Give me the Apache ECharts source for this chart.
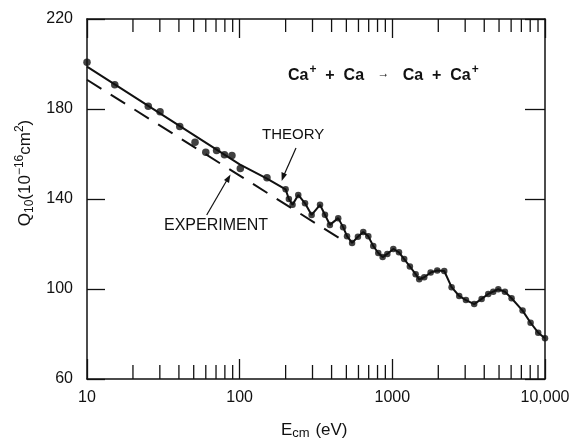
<!DOCTYPE html>
<html>
<head>
<meta charset="utf-8">
<script src="https://cdn.jsdelivr.net/npm/echarts@6/dist/echarts.min.js"></script>
<style>
  html, body { margin: 0; padding: 0; background: #fff; }
  #chart { width: 574px; height: 439px; }
</style>
</head>
<body>
<div id="chart"></div>
<script>
// theory: straight fit at low energy, then oscillating part (dots on every vertex)
const theoryLineE = [10, 100, 150]
const theoryLineQ = [198.8, 155.4, 149.2]
const wiggleE = [200, 210, 222, 242, 268, 296, 336, 362, 390, 442, 476, 505, 545, 595, 645, 696, 750, 809, 864, 927,
  1015, 1105, 1196, 1303, 1421, 1500, 1618, 1782, 1968, 2188, 2444, 2742, 3034, 3437, 3845, 4248, 4581, 4942,
  5463, 6040, 7131, 8046, 9025, 10000]
const wiggleQ = [144.3, 140, 137.5, 141.8, 138.1, 132.9, 137.4, 133, 128.5, 131.5, 127.5, 123.5, 120.5, 123.2, 125.3,
  123.4, 119.1, 116, 114.2, 115.6, 117.8, 116.3, 113.3, 110, 106.6, 104.3, 105.2, 107.3, 108.2, 108, 100.8, 96.9,
  95.1, 93.3, 95.6, 97.8, 98.8, 99.9, 98.8, 95.9, 90.4, 85, 80.6, 78.1]
// computed points scattered about the low-energy fit
const lowDotE = [10, 15.2, 25.2, 30.1, 40.5, 51, 60, 70.6, 79.5, 89, 101, 151]
const lowDotQ = [200.8, 190.8, 181.2, 178.8, 172.2, 165.2, 160.8, 161.6, 159.7, 159.3, 153.6, 149.4]
// experiment (dashed)
const expE = [10, 100, 490]
const expQ = [193, 150.4, 121]
// tick marks on the log axis
const minorTickE = [20, 30, 40, 50, 60, 70, 80, 90, 200, 300, 400, 500, 600, 700, 800, 900,
  2000, 3000, 4000, 5000, 6000, 7000, 8000, 9000]
const yTicks = [60, 100, 140, 180, 220]

const zip = (xs, ys) => xs.map((x, i) => [x, ys[i]])
const ink = '#111'
const font = 'Liberation Sans, Arial, sans-serif'

const chart = echarts.init(document.getElementById('chart'), null, { renderer: 'canvas' })

const option = {
  animation: false,
  backgroundColor: '#fff',
  textStyle: { fontFamily: font, color: ink },
  grid: { left: 87, right: 29, top: 19, bottom: 60 },
  xAxis: [
    {
      type: 'log', logBase: 10, min: 10, max: 10000,
      axisLine: { show: true, lineStyle: { color: ink, width: 1.5 } },
      axisTick: { show: true, inside: true, length: 20, lineStyle: { color: ink, width: 1.3 } },
      axisLabel: {
        fontSize: 16, color: ink, margin: 11, fontFamily: font,
        formatter: v => (Math.round(v) === 10000 ? '10,000' : String(Math.round(v)))
      },
      splitLine: { show: false }
    },
    {
      type: 'log', logBase: 10, min: 10, max: 10000, position: 'top',
      axisLine: { show: true, lineStyle: { color: ink, width: 1.5 } },
      axisTick: { show: true, inside: true, length: 19, lineStyle: { color: ink, width: 1.3 } },
      axisLabel: { show: false },
      splitLine: { show: false }
    }
  ],
  yAxis: [
    {
      type: 'value', min: 60, max: 220, interval: 40,
      axisLine: { show: true, lineStyle: { color: ink, width: 1.5 } },
      axisTick: { show: true, inside: true, length: 18, lineStyle: { color: ink, width: 1.3 } },
      axisLabel: { fontSize: 16, color: ink, margin: 14, fontFamily: font },
      splitLine: { show: false }
    },
    {
      type: 'value', min: 60, max: 220, interval: 40, position: 'right',
      axisLine: { show: true, lineStyle: { color: ink, width: 1.5 } },
      axisTick: { show: true, inside: true, length: 20, lineStyle: { color: ink, width: 1.3 } },
      axisLabel: { show: false },
      splitLine: { show: false }
    }
  ],
  series: [
    {
      name: 'minor ticks',
      type: 'custom',
      data: minorTickE.map(e => [e]),
      encode: { x: 0 },
      silent: true,
      renderItem: (params, api) => {
        const e = api.value(0)
        const b = api.coord([e, yTicks[0]])
        const t = api.coord([e, yTicks[yTicks.length - 1]])
        const style = { stroke: ink, lineWidth: 1.3 }
        return {
          type: 'group',
          children: [
            { type: 'line', shape: { x1: b[0], y1: b[1], x2: b[0], y2: b[1] - 14 }, style },
            { type: 'line', shape: { x1: t[0], y1: t[1], x2: t[0], y2: t[1] + 13 }, style }
          ]
        }
      }
    },
    {
      name: 'EXPERIMENT',
      type: 'line',
      data: zip(expE, expQ),
      showSymbol: false,
      lineStyle: { color: ink, width: 2, type: [17, 11] },
      z: 3
    },
    {
      name: 'THEORY',
      type: 'line',
      data: zip(theoryLineE, theoryLineQ).concat(zip(wiggleE, wiggleQ)),
      showSymbol: false,
      lineStyle: { color: ink, width: 2 },
      z: 4
    },
    {
      name: 'THEORY points',
      type: 'scatter',
      data: zip(lowDotE, lowDotQ),
      symbolSize: 7.5,
      itemStyle: { color: ink },
      z: 5
    },
    {
      name: 'THEORY points 2',
      type: 'scatter',
      data: zip(wiggleE, wiggleQ),
      symbolSize: 6.5,
      itemStyle: { color: ink },
      z: 5
    }
  ],
  graphic: [
    {
      type: 'text', left: 288, top: 64,
      style: {
        text: '{b|Ca}{p|+}{b|  +  Ca   }{r|→}{b|   Ca  +  Ca}{p|+}',
        fill: ink,
        rich: {
          b: { fontSize: 16, fontWeight: 'bold', fontFamily: font, color: ink, lineHeight: 20, verticalAlign: 'bottom' },
          p: { fontSize: 12, fontWeight: 'bold', fontFamily: font, color: ink, lineHeight: 20, verticalAlign: 'top', padding: [0, 0, 4, 1] },
          r: { fontSize: 12, fontFamily: font, color: ink, lineHeight: 20, verticalAlign: 'middle' }
        }
      }
    },
    {
      type: 'text', left: 262, top: 127,
      style: { text: 'THEORY', font: '15px ' + font, fill: ink }
    },
    {
      type: 'line', shape: { x1: 296, y1: 148, x2: 284, y2: 175 },
      style: { stroke: ink, lineWidth: 1.2 }
    },
    {
      type: 'polygon', shape: { points: [[281.7, 181], [281.5, 172], [287, 174.5]] },
      style: { fill: ink }
    },
    {
      type: 'text', left: 164, top: 218,
      style: { text: 'EXPERIMENT', font: '16px ' + font, fill: ink }
    },
    {
      type: 'line', shape: { x1: 206.7, y1: 215, x2: 227, y2: 180 },
      style: { stroke: ink, lineWidth: 1.2 }
    },
    {
      type: 'polygon', shape: { points: [[230.5, 174.5], [229, 183], [224, 180]] },
      style: { fill: ink }
    },
    {
      type: 'text', left: 281, top: 419,
      style: {
        text: '{a|E}{s|cm}{a| (eV)}',
        fill: ink,
        rich: {
          a: { fontSize: 17, fontFamily: font, color: ink, lineHeight: 18, verticalAlign: 'top' },
          s: { fontSize: 13, fontFamily: font, color: ink, lineHeight: 18, verticalAlign: 'bottom', padding: [8, 1, 0, 0] }
        }
      }
    },
    {
      type: 'text', x: 25, y: 173, rotation: Math.PI / 2,
      style: {
        text: '{a|Q}{s|10}{a|(10}{p|−16}{a|cm}{p|2}{a|)}',
        fill: ink, align: 'center', verticalAlign: 'middle',
        rich: {
          a: { fontSize: 17, fontFamily: font, color: ink, lineHeight: 22, verticalAlign: 'middle' },
          s: { fontSize: 12, fontFamily: font, color: ink, lineHeight: 22, verticalAlign: 'bottom', padding: [8, 0, 0, 0] },
          p: { fontSize: 12, fontFamily: font, color: ink, lineHeight: 22, verticalAlign: 'top', padding: [0, 0, 8, 0] }
        }
      }
    }
  ]
}

chart.setOption(option)
</script>
</body>
</html>
